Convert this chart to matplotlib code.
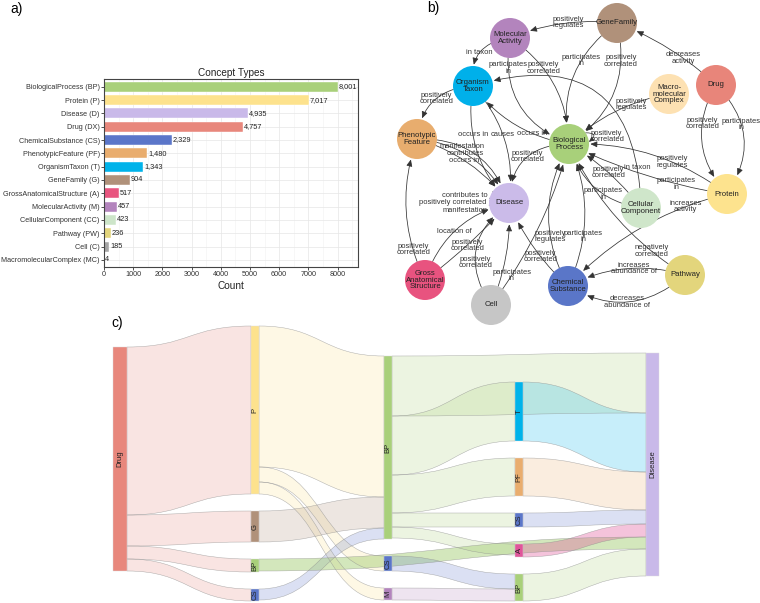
import numpy as np
import matplotlib
matplotlib.use("Agg")
import matplotlib.pyplot as plt
from matplotlib.patches import Circle, FancyArrowPatch, PathPatch, Rectangle
from matplotlib.path import Path

plt.rcParams['font.family'] = ['Liberation Sans', 'DejaVu Sans']

# ---------------- a) concept type counts ----------------
concept_names = ["BiologicalProcess (BP)", "Protein (P)", "Disease (D)", "Drug (DX)",
                 "ChemicalSubstance (CS)", "PhenotypicFeature (PF)", "OrganismTaxon (T)",
                 "GeneFamily (G)", "GrossAnatomicalStructure (A)", "MolecularActivity (M)",
                 "CellularComponent (CC)", "Pathway (PW)", "Cell (C)", "MacromolecularComplex (MC)"]
concept_counts = [8001, 7017, 4935, 4757, 2329, 1480, 1343, 904, 517, 457, 423, 236, 185, 4]
concept_colors = ["#a9d07a", "#fde28d", "#c9b9e9", "#e8877c", "#5b76c9", "#e9ad6e", "#00b3ea",
                  "#b0917a", "#e8557f", "#b384bd", "#cde5c9", "#e3d57c", "#a6a6a6", "#fde0b2"]

# ---------------- b) schema graph ----------------
net_nodes = ["GeneFamily", "MolecularActivity", "OrganismTaxon", "Drug", "MacromolecularComplex",
             "PhenotypicFeature", "BiologicalProcess", "Protein", "CellularComponent", "Disease",
             "Pathway", "ChemicalSubstance", "GrossAnatomicalStructure", "Cell"]
net_text = ["GeneFamily", "Molecular\nActivity", "Organism\nTaxon", "Drug", "Macro-\nmolecular\nComplex",
            "Phenotypic\nFeature", "Biological\nProcess", "Protein", "Cellular\nComponent", "Disease",
            "Pathway", "Chemical\nSubstance", "Gross\nAnatomical\nStructure", "Cell"]
net_colors = ["#b0917a", "#b384bd", "#00b0ea", "#e8857a", "#fde1b2", "#e8ad6e", "#a8d07a",
              "#fde38e", "#cfe6ca", "#cbbbe9", "#e3d57c", "#5a76c8", "#e8537f", "#c6c6c6"]

edge_src = ["GeneFamily", "MolecularActivity", "MolecularActivity", "MolecularActivity",
            "GeneFamily", "GeneFamily", "Drug", "Drug", "Drug", "MacromolecularComplex",
            "OrganismTaxon", "OrganismTaxon", "OrganismTaxon", "BiologicalProcess",
            "CellularComponent", "BiologicalProcess", "PhenotypicFeature", "PhenotypicFeature",
            "PhenotypicFeature", "Protein", "Protein", "CellularComponent", "CellularComponent",
            "Protein", "Pathway", "Pathway", "Pathway", "ChemicalSubstance", "ChemicalSubstance",
            "ChemicalSubstance", "GrossAnatomicalStructure", "GrossAnatomicalStructure",
            "GrossAnatomicalStructure", "Cell", "Cell", "Cell"]
edge_dst = ["MolecularActivity", "OrganismTaxon", "BiologicalProcess", "BiologicalProcess",
            "BiologicalProcess", "BiologicalProcess", "GeneFamily", "Protein", "Protein",
            "BiologicalProcess", "PhenotypicFeature", "Disease", "Disease", "OrganismTaxon",
            "OrganismTaxon", "Disease", "Disease", "Disease", "Disease", "BiologicalProcess",
            "BiologicalProcess", "BiologicalProcess", "BiologicalProcess", "ChemicalSubstance",
            "BiologicalProcess", "ChemicalSubstance", "ChemicalSubstance", "BiologicalProcess",
            "BiologicalProcess", "Disease", "PhenotypicFeature", "Disease", "Disease", "Disease",
            "Disease", "BiologicalProcess"]
edge_label = ["positively\nregulates", "in taxon", "participates\nin", "positively\ncorrelated",
              "participates\nin", "positively\ncorrelated", "decreases\nactivity",
              "positively\ncorrelated", "participates\nin", "positively\nregulates",
              "positively\ncorrelated", "occurs in", "causes", "occurs in", "in taxon",
              "positively\ncorrelated", "manifestation", "contributes", "occurs in",
              "positively\nregulates", "participates\nin", "positively\ncorrelated",
              "participates\nin", "increases\nactivity", "negatively\ncorrelated",
              "increases\nabundance of", "decreases\nabundance of", "positively\nregulates",
              "participates\nin", "positively\ncorrelated", "positively\ncorrelated", "location of",
              "positively\ncorrelated", "positively\ncorrelated", "", "participates\nin"]

loop_node = ["BiologicalProcess", "Disease", "Disease", "Disease"]
loop_label = ["positively\ncorrelated", "contributes to", "positively correlated", "manifestation"]

# ---------------- c) sankey ----------------
sankey_nodes = ["Drug", "P", "G", "BP", "CS", "BP", "CS", "M", "T", "PF", "CS", "A", "BP", "Disease"]
sankey_cols = [0, 1, 1, 1, 1, 2, 2, 2, 3, 3, 3, 3, 3, 4]
sankey_colors = ["#e8877c", "#fde28d", "#b0917a", "#a9d07a", "#5b76c9", "#a9d07a", "#5b76c9",
                 "#b384bd", "#00b3ea", "#e9ad6e", "#5b76c9", "#e0559a", "#a9d07a", "#c9b9e9"]
link_src = [0, 0, 0, 0, 1, 1, 1, 2, 4, 3, 5, 5, 5, 5, 5, 6, 7, 8, 9, 10, 11, 12]
link_tgt = [1, 2, 3, 4, 5, 6, 7, 5, 5, 13, 13, 8, 9, 10, 11, 12, 12, 13, 13, 13, 13, 13]
link_val = [168, 31, 13, 12, 141, 15, 12, 31, 11, 12, 60, 59, 38, 14, 11, 15, 12, 59, 38, 14, 13, 27]

# ---------------- layout / style ----------------
net_pos = {"GeneFamily": (617, 23), "MolecularActivity": (510, 38), "OrganismTaxon": (473, 86),
           "Drug": (716, 85), "MacromolecularComplex": (669, 94), "PhenotypicFeature": (417, 139),
           "BiologicalProcess": (569, 144), "Protein": (727, 194), "CellularComponent": (641, 208),
           "Disease": (509, 203), "Pathway": (685, 275), "ChemicalSubstance": (568, 286),
           "GrossAnatomicalStructure": (425, 280), "Cell": (491, 305)}
node_r = 20
# curvature and label position along each edge
edge_rad = [0.13, 0.5, 0.4, -0.26, 0.32, -0.35, 0.1, 0.36, -0.41, 0.15, 0.42, 0.25, -0.235, -0.2,
            0.65, 0.48, -0.37, -0.28, -0.17, 0.18, -0.08, 0.1, -0.32, 0.15, -0.15, 0.2, -0.365,
            -0.28, 0.23, -0.11, -0.21, -0.28, 0.05, -0.47, 0.12, 0.1]
edge_t = [0.45, 0.5, 0.21, 0.35, 0.37, 0.26, 0.36, 0.34, 0.38, 0.34, 0.46, 0.38, 0.45, 0.33,
          0.13, 0.46, 0.37, 0.43, 0.45, 0.375, 0.31, 0.5, 0.39, 0.23, 0.23, 0.43, 0.51, 0.35,
          0.35, 0.39, 0.22, 0.48, 0.48, 0.38, 0.5, 0.2]
loop_angle = [20, 160, 180, 200]

col_x = [113, 251, 384, 515, 646]
col_w = [14, 8, 8, 8, 13]
col_top = [347, 326, 356, 382, 353]
node_pad = 17
link_alpha = [0.22] * len(link_val)
link_alpha[9] = 0.5
link_alpha[20] = 0.35

fig = plt.figure(figsize=(7.6, 6.03), dpi=100)

# ---------- panel a ----------
ax = fig.add_axes([104 / 760, 1 - 267 / 603, 254 / 760, 188 / 603])
y = np.arange(len(concept_names))
ax.barh(y, concept_counts, color=concept_colors, height=0.75, edgecolor="white", linewidth=0.3, zorder=2)
for yi, v in zip(y, concept_counts):
    ax.text(v + 25, yi, f"{v:,}", va="center", ha="left", fontsize=5.3, color="#222", zorder=3)
ax.set_yticks(y)
ax.set_yticklabels(concept_names)
ax.set_ylim(13.53, -0.58)
ax.set_xlim(0, 8700)
ax.set_xticks(np.arange(0, 8001, 1000))
ax.set_xticks(np.arange(500, 8700, 1000), minor=True)
ax.grid(which="major", color="#e6e6e6", lw=0.5, zorder=0)
ax.grid(which="minor", axis="x", color="#f2f2f2", lw=0.4, zorder=0)
ax.tick_params(labelsize=5.2, length=2, width=0.6, colors="#333", pad=1)
ax.tick_params(which="minor", length=0)
for sp in ax.spines.values():
    sp.set_color("#444")
    sp.set_linewidth(0.8)
ax.set_title("Concept Types", fontsize=7.2, pad=2.5, color="#222")
ax.set_xlabel("Count", fontsize=7.2, labelpad=2, color="#222")

# ---------- overlay in pixel coordinates for b and c ----------
ov = fig.add_axes([0, 0, 1, 1])
ov.set_xlim(0, 760)
ov.set_ylim(603, 0)
ov.axis("off")

ov.text(17, 9, "a)", fontsize=10, ha="center", va="center")
ov.text(433, 8, "b)", fontsize=10, ha="center", va="center")
ov.text(117, 323, "c)", fontsize=10, ha="center", va="center")

# network nodes
circles = {}
for name, txt, col in zip(net_nodes, net_text, net_colors):
    c = Circle(net_pos[name], node_r, facecolor=col, edgecolor="none", zorder=3)
    ov.add_patch(c)
    circles[name] = c
    ov.text(*net_pos[name], txt, ha="center", va="center", fontsize=5.6, color="#222",
            linespacing=0.95, zorder=4)

astyle = "-|>,head_length=0.5,head_width=0.22"
for s, d, lab, rad, t in zip(edge_src, edge_dst, edge_label, edge_rad, edge_t):
    S = np.array(net_pos[s], float)
    D = np.array(net_pos[d], float)
    arr = FancyArrowPatch(S, D, patchA=circles[s], patchB=circles[d], shrinkA=0, shrinkB=1,
                          connectionstyle=f"arc3,rad={rad}", arrowstyle=astyle, mutation_scale=8,
                          lw=0.55, color="#333", zorder=2)
    ov.add_patch(arr)
    dv = D - S
    perp = np.array([-dv[1], dv[0]])
    L = S + t * dv + 2 * t * (1 - t) * rad * perp
    if lab:
        ov.text(L[0], L[1], lab, ha="center", va="center", fontsize=5.4, color="#333",
                linespacing=0.85, zorder=5)

# self loops
for name, lab, ang in zip(loop_node, loop_label, loop_angle):
    cx, cy = net_pos[name]
    a1, a2 = np.radians(ang + 14), np.radians(ang - 14)
    pA = (cx + node_r * np.cos(a1), cy - node_r * np.sin(a1))
    pB = (cx + node_r * np.cos(a2), cy - node_r * np.sin(a2))
    if np.cos(np.radians(ang)) < 0:
        pA, pB = pB, pA
    ov.add_patch(FancyArrowPatch(pA, pB, connectionstyle="arc3,rad=-1.4", arrowstyle=astyle,
                                 mutation_scale=6, lw=0.5, color="#333", shrinkA=0, shrinkB=0, zorder=2))
    lx = cx + (node_r + 3) * np.cos(np.radians(ang))
    ly = cy - (node_r + 3) * np.sin(np.radians(ang))
    ov.text(lx, ly, lab, ha="left" if np.cos(np.radians(ang)) > 0 else "right", va="center",
            fontsize=5.4, color="#333", linespacing=0.85, zorder=5)

# sankey layout
n = len(sankey_nodes)
inflow = np.zeros(n)
outflow = np.zeros(n)
for s, t, v in zip(link_src, link_tgt, link_val):
    outflow[s] += v
    inflow[t] += v
size = np.maximum(inflow, outflow)
ny0 = np.zeros(n)
for c in range(len(col_x)):
    yy = col_top[c]
    for i in range(n):
        if sankey_cols[i] == c:
            ny0[i] = yy
            yy += size[i] + node_pad

nl = len(link_val)
sy = np.zeros(nl)
ty = np.zeros(nl)
off = ny0.copy()
for k in sorted(range(nl), key=lambda k: (link_src[k], ny0[link_tgt[k]])):
    sy[k] = off[link_src[k]]
    off[link_src[k]] += link_val[k]
off = ny0.copy()
for k in sorted(range(nl), key=lambda k: (link_tgt[k], ny0[link_src[k]])):
    ty[k] = off[link_tgt[k]]
    off[link_tgt[k]] += link_val[k]

for k in range(nl):
    s, t, v = link_src[k], link_tgt[k], link_val[k]
    xs = col_x[sankey_cols[s]] + col_w[sankey_cols[s]]
    xt = col_x[sankey_cols[t]]
    xm = (xs + xt) / 2
    verts = [(xs, sy[k]), (xm, sy[k]), (xm, ty[k]), (xt, ty[k]),
             (xt, ty[k] + v), (xm, ty[k] + v), (xm, sy[k] + v), (xs, sy[k] + v), (xs, sy[k])]
    codes = [Path.MOVETO, Path.CURVE4, Path.CURVE4, Path.CURVE4,
             Path.LINETO, Path.CURVE4, Path.CURVE4, Path.CURVE4, Path.CLOSEPOLY]
    ov.add_patch(PathPatch(Path(verts, codes), facecolor=sankey_colors[s], alpha=link_alpha[k],
                           edgecolor="none", zorder=1))
    ov.add_patch(PathPatch(Path(verts, codes), facecolor="none", edgecolor="#8c8c8c",
                           lw=0.35, alpha=0.7, zorder=1.1))

for i in range(n):
    c = sankey_cols[i]
    ov.add_patch(Rectangle((col_x[c], ny0[i]), col_w[c], size[i], facecolor=sankey_colors[i],
                           edgecolor="#dddddd", lw=0.3, zorder=3))
    ov.text(col_x[c] + col_w[c] / 2, ny0[i] + size[i] / 2, sankey_nodes[i], rotation=90,
            ha="center", va="center", fontsize=5.5, color="#222", zorder=4)

fig.savefig("out.png", dpi=100)
